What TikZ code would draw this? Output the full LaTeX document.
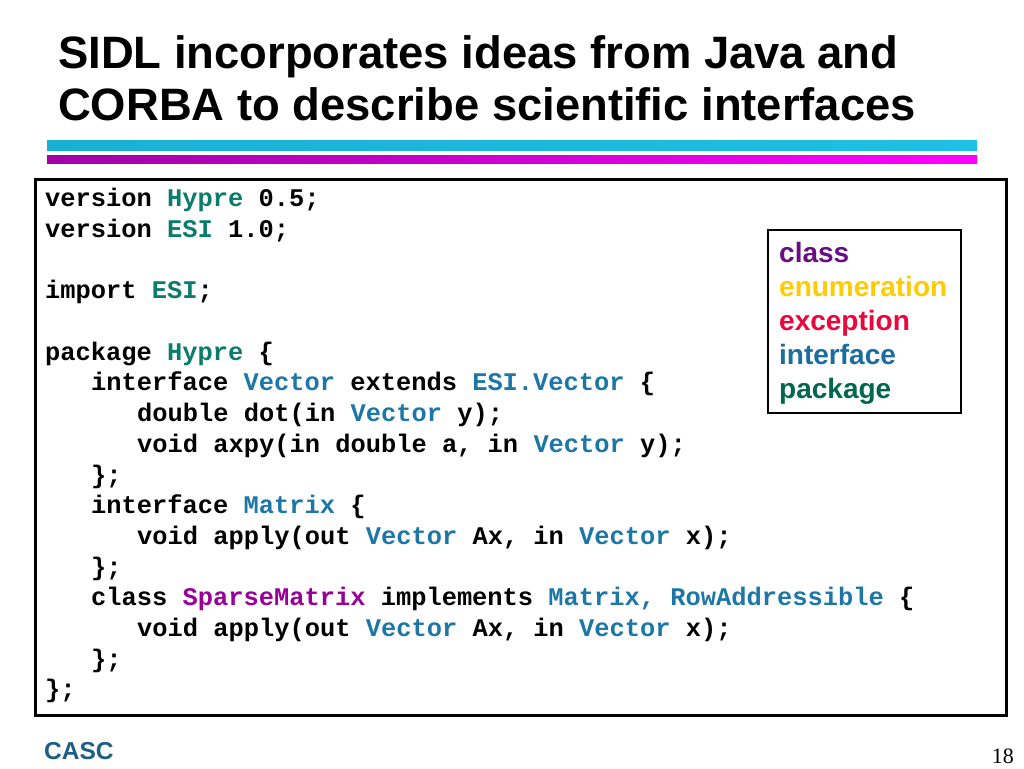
\documentclass[tikz,border=0pt]{standalone}
\usepackage{xcolor,fontspec,tikz}
\setmainfont{Liberation Sans}
\newfontfamily\codefont{Liberation Mono}
\newfontfamily\pagefont{Liberation Serif}

\definecolor{pkgc}{HTML}{0A7C6A}
\definecolor{ifcc}{HTML}{1D77A6}
\definecolor{clsc}{HTML}{990099}
\definecolor{lgclass}{HTML}{6A0D83}
\definecolor{lgenum}{HTML}{FFCC00}
\definecolor{lgexc}{HTML}{E8083C}
\definecolor{lgifc}{HTML}{1B6C9F}
\definecolor{lgpkg}{HTML}{00664F}
\definecolor{casc}{HTML}{1C5E86}

\newcommand{\kpkg}[1]{\textcolor{pkgc}{#1}}
\newcommand{\kifc}[1]{\textcolor{ifcc}{#1}}
\newcommand{\kcls}[1]{\textcolor{clsc}{#1}}

\tikzset{
  codeline/.style={anchor=base west, inner sep=0pt, font=\codefont\bfseries\fontsize{25.4}{30}\selectfont},
  titleline/.style={anchor=base west, inner sep=0pt, font=\bfseries\fontsize{45.4}{52}\selectfont},
  legendline/.style={anchor=base west, inner sep=0pt, font=\bfseries\fontsize{28}{34}\selectfont}
}

\begin{document}
\begin{tikzpicture}[x=1pt, y=-1pt]
  \useasboundingbox (0,0) rectangle (1024,768);
  % title
  \node [titleline] (title1) at (58,68) {SIDL incorporates ideas from Java and};
  \node [titleline] (title2) at (58,120) {CORBA to describe scientific interfaces};
  % bars under the title
  \shade [left color={rgb,255:red,26;green,176;blue,212}, right color={rgb,255:red,30;green,192;blue,228}] (47,140) rectangle (977,150);
  \shade [left color={rgb,255:red,160;green,0;blue,168}, right color={rgb,255:red,255;green,0;blue,255}] (47,155) rectangle (977,163);
  % code box
  \draw [line width=3pt] (35.5,179.5) rectangle (1006.5,715.5);
  \node [codeline] (l1) at (45,206.7) {version \kpkg{Hypre} 0.5;};
  \node [codeline] (l2) at (45,237.4) {version \kpkg{ESI} 1.0;};
  \node [codeline] (l3) at (45,298.8) {import \kpkg{ESI};};
  \node [codeline] (l4) at (45,360.2) {package \kpkg{Hypre} \{};
  \node [codeline] (l5) at (91,390.9) {interface \kifc{Vector} extends \kifc{ESI.Vector} \{};
  \node [codeline] (l6) at (137,421.6) {double dot(in \kifc{Vector} y);};
  \node [codeline] (l7) at (137,452.3) {void axpy(in double a, in \kifc{Vector} y);};
  \node [codeline] (l8) at (91,483.0) {\};};
  \node [codeline] (l9) at (91,513.7) {interface \kifc{Matrix} \{};
  \node [codeline] (l10) at (137,544.4) {void apply(out \kifc{Vector} Ax, in \kifc{Vector} x);};
  \node [codeline] (l11) at (91,575.1) {\};};
  \node [codeline] (l12) at (91,605.8) {class \kcls{SparseMatrix} implements \kifc{Matrix, RowAddressible} \{};
  \node [codeline] (l13) at (137,636.5) {void apply(out \kifc{Vector} Ax, in \kifc{Vector} x);};
  \node [codeline] (l14) at (91,667.2) {\};};
  \node [codeline] (l15) at (45,697.9) {\};};
  % legend
  \draw [line width=1.2pt, fill=white] (768,230) rectangle (961,413);
  \node [legendline, text=lgclass] (lgA) at (779,262) {class};
  \node [legendline, text=lgenum] (lgB) at (779,296) {enumeration};
  \node [legendline, text=lgexc] (lgC) at (779,330) {exception};
  \node [legendline, text=lgifc] (lgD) at (779,364) {interface};
  \node [legendline, text=lgpkg] (lgE) at (779,398) {package};
  % footer
  \node [anchor=base west, inner sep=0pt, text=casc, font=\bfseries\fontsize{24.5}{28}\selectfont] (casc) at (44,759) {CASC};
  \node [anchor=base east, inner sep=0pt, font=\pagefont\fontsize{22}{26}\selectfont] (page) at (1014,763) {18};
\end{tikzpicture}
\end{document}
